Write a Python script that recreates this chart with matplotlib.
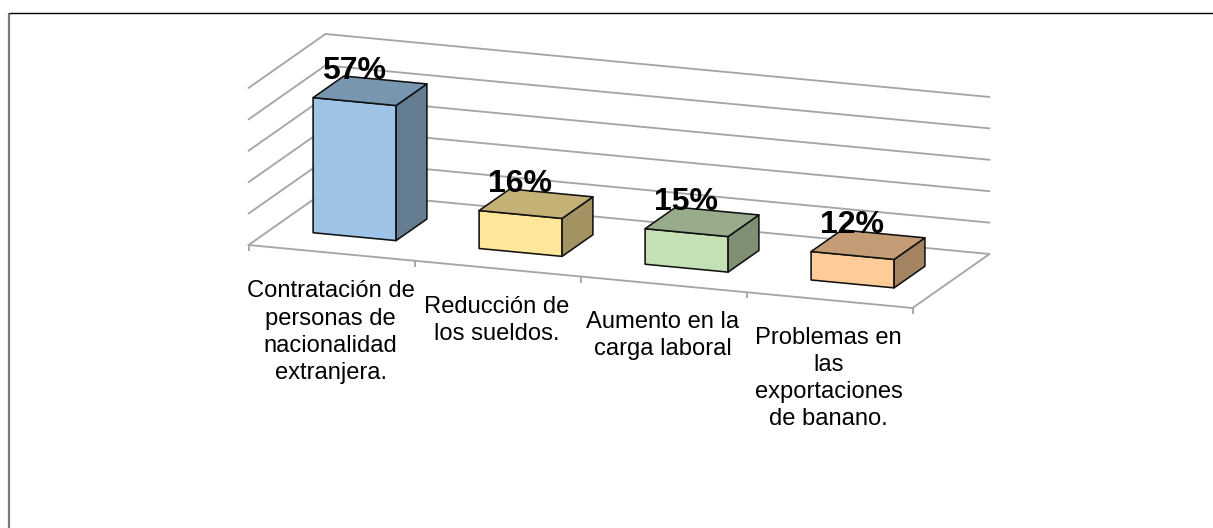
import matplotlib
matplotlib.use("Agg")
import matplotlib.pyplot as plt
from matplotlib.patches import Polygon

# ---- data ----
categories = ["Contratación de\npersonas de\nnacionalidad\nextranjera.",
              "Reducción de\nlos sueldos.",
              "Aumento en la\ncarga laboral",
              "Problemas en\nlas\nexportaciones\nde banano."]
values = [57, 16, 15, 12]
value_labels = ["57%", "16%", "15%", "12%"]
grid_levels = [0, 13.25, 26.5, 39.75, 53, 66.25]
front_colors = ["#9DC3E6", "#FFE699", "#C5E0B4", "#FFCC99"]

# ---- oblique projection of the chart box onto the picture ----
ORIGIN = (248.5, 245.0)
U_VEC = (166.0, 15.75)   # one category along the front edge
V_VEC = (77.0, -54.0)    # full floor depth
Z_SCALE = 2.37           # pixels per percent
BAR_SPAN = 0.5           # share of a category
BAR_DEPTH = 0.4          # share of the floor depth
GRID = "#A6A6A6"


def project(u, v, z=0.0):
    return (ORIGIN[0] + U_VEC[0] * u + V_VEC[0] * v,
            ORIGIN[1] + U_VEC[1] * u + V_VEC[1] * v - Z_SCALE * z)


def shade(hex_color, f):
    rgb = matplotlib.colors.to_rgb(hex_color)
    return tuple(c * f for c in rgb)


plt.rcParams["font.family"] = ["Liberation Sans", "DejaVu Sans"]
fig = plt.figure(figsize=(12.13, 5.28), dpi=100)
ax = fig.add_axes([0, 0, 1, 1])
ax.set_xlim(0, 1213)
ax.set_ylim(528, 0)
ax.axis("off")

n = len(categories)

# chart frame
ax.plot([8.5, 8.5], [528, 13], color="#7A7A7A", lw=1.6, solid_capstyle="butt", zorder=1)
ax.plot([9, 1213], [12.5, 12.5], color="#000000", lw=1.0, solid_capstyle="butt", zorder=1)


def line3(a, b):
    p, q = project(*a), project(*b)
    ax.plot([p[0], q[0]], [p[1], q[1]], color=GRID, lw=1.35, solid_capstyle="round", zorder=2)


# walls and floor
for z in grid_levels:
    line3((0, 0, z), (0, 1, z))
    line3((0, 1, z), (n, 1, z))
line3((0, 0, 0), (n, 0, 0))
line3((n, 0, 0), (n, 1, 0))

# category ticks
for i in range(n + 1):
    x, y = project(i, 0)
    ax.plot([x, x], [y, y + 6], color=GRID, lw=1.35, solid_capstyle="butt", zorder=2)

# bars
for i, (val, col) in enumerate(zip(values, front_colors)):
    u0 = i + (1 - BAR_SPAN) / 2
    u1 = u0 + BAR_SPAN
    v0 = (1 - BAR_DEPTH) / 2
    v1 = v0 + BAR_DEPTH
    front = [project(u0, v0, 0), project(u1, v0, 0), project(u1, v0, val), project(u0, v0, val)]
    side = [project(u1, v0, 0), project(u1, v1, 0), project(u1, v1, val), project(u1, v0, val)]
    top = [project(u0, v0, val), project(u1, v0, val), project(u1, v1, val), project(u0, v1, val)]
    for pts, f in ((front, 1.0), (side, 0.64), (top, 0.77)):
        ax.add_patch(Polygon(pts, closed=True, facecolor=shade(col, f), edgecolor="#111111",
                             lw=1.15, joinstyle="round", zorder=3 + i))

# value labels
for i, (val, lab) in enumerate(zip(values, value_labels)):
    x, y = project(i + 0.5, 0.5, val)
    ax.text(x - 15.5, y - 11.5, lab, fontsize=23, fontweight="bold", color="black",
            ha="center", va="baseline", zorder=10)

# category labels
label_drop = [27.5, 27, 26.5, 26.5]
for i, lab in enumerate(categories):
    x, y = project(i + 0.5, 0)
    ax.text(x - 1, y + label_drop[i], lab, fontsize=17.1, color="black", ha="center", va="top",
            linespacing=1.31, zorder=10)

fig.savefig("out.png", dpi=100, facecolor="white")
